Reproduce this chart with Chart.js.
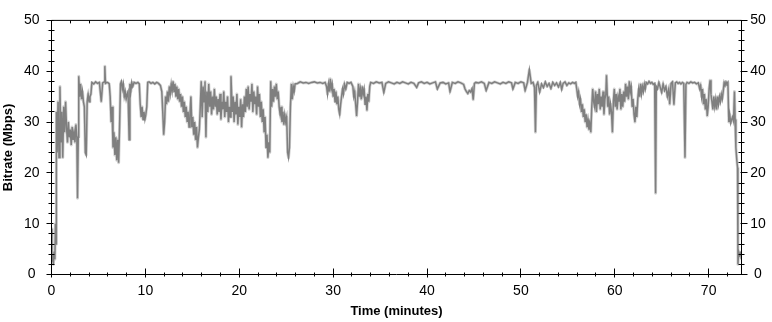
<!DOCTYPE html>
<html>
<head>
<meta charset="utf-8">
<script src="https://cdn.jsdelivr.net/npm/chart.js@4.4.1/dist/chart.umd.min.js"></script>
<style>
  html, body { margin: 0; padding: 0; background: #fff; }
  canvas { display: block; }
</style>
</head>
<body>
<canvas id="chart" width="772" height="322"></canvas>
<script>
// time axis (minutes) and bitrate readings (Mbps)
const timeMin = [
  0, 0.05, 0.12, 0.2, 0.28, 0.36, 0.42, 0.48, 0.52,
  0.6, 0.7, 0.8, 0.9, 1.0, 1.1, 1.2, 1.3, 1.4, 1.5, 1.6, 1.7, 1.8, 1.9, 2.0, 2.1, 2.2, 2.3, 2.4, 2.5, 2.6, 2.7, 2.77, 2.85,
  2.9, 3.0, 3.1, 3.2, 3.3, 3.4, 3.5, 3.6, 3.7, 3.8, 3.9, 4.0, 4.1, 4.2,
  4.3, 4.5, 4.7, 4.9, 5.1, 5.3, 5.45, 5.6, 5.68, 5.75, 5.9, 6.05, 6.15,
  6.25, 6.35, 6.45, 6.55, 6.65, 6.75, 6.85, 6.95, 7.05, 7.15, 7.25, 7.35,
  7.45, 7.55, 7.65, 7.75, 7.85, 7.95, 8.05, 8.15, 8.27, 8.35, 8.45, 8.55, 8.65, 8.8, 9.0, 9.2, 9.35,
  9.45, 9.55, 9.65, 9.75, 9.85, 9.95, 10.05, 10.15, 10.25,
  10.4, 10.6, 10.8, 11.0, 11.2, 11.4, 11.6, 11.75,
  11.85, 11.95, 12.05, 12.15, 12.25, 12.35, 12.45, 12.55, 12.65, 12.75, 12.85, 12.95,
  13.05, 13.15, 13.25, 13.35, 13.45, 13.55, 13.65, 13.75, 13.85, 13.95, 14.05, 14.15, 14.25, 14.35,
  14.45, 14.55, 14.65, 14.75, 14.85, 14.95, 15.05, 15.15, 15.25, 15.35, 15.45, 15.55, 15.65, 15.75,
  15.85, 15.95, 16.05, 16.15, 16.25, 16.35, 16.45, 16.55, 16.65, 16.75, 16.85, 16.95, 17.05, 17.15, 17.25, 17.35,
  17.45, 17.55, 17.65, 17.75, 17.85, 17.95, 18.05, 18.15, 18.25, 18.35, 18.45, 18.55, 18.65, 18.75, 18.85, 18.95,
  19.05, 19.12, 19.25, 19.35, 19.45, 19.55, 19.65, 19.75, 19.85, 19.95, 20.05, 20.15, 20.25, 20.35, 20.45, 20.55, 20.65, 20.75,
  20.85, 20.95, 21.05, 21.15, 21.25, 21.35, 21.45, 21.55, 21.65, 21.75, 21.85, 21.95, 22.05, 22.15, 22.25, 22.35, 22.45,
  22.55, 22.65, 22.75, 22.85, 22.95, 23.05, 23.15, 23.25, 23.35, 23.45, 23.55, 23.65, 23.75, 23.85, 23.95, 24.05, 24.15, 24.25,
  24.35, 24.45, 24.55, 24.65, 24.75, 24.85, 24.95, 25.05, 25.15, 25.25, 25.35, 25.45, 25.55, 25.65, 25.75, 25.85, 25.95,
  26.2, 26.5, 26.8, 27.1, 27.4, 27.7, 28.0, 28.3, 28.6, 28.9, 29.15,
  29.3, 29.4, 29.5, 29.6, 29.7, 29.8, 29.9, 30.0, 30.1, 30.2, 30.3, 30.4, 30.5, 30.6, 30.7, 30.8, 30.9, 31.0, 31.1, 31.2, 31.35, 31.5, 31.7, 31.9,
  32.1, 32.2, 32.3, 32.4, 32.5, 32.6, 32.7, 32.8, 32.9, 33.0, 33.1, 33.2, 33.3, 33.4, 33.5, 33.6, 33.7, 33.8, 33.9, 34.0,
  34.3, 34.6, 34.9, 35.2, 35.4, 35.6, 35.9, 36.2, 36.5, 36.8, 37.1, 37.4, 37.7, 38.0, 38.3, 38.6, 38.9, 39.1, 39.4, 39.7,
  40.0, 40.3, 40.6, 40.9, 41.1, 41.4, 41.7, 42.0, 42.3, 42.45, 42.7, 43.0, 43.3, 43.6,
  43.9, 44.05, 44.2, 44.35, 44.5, 44.65, 44.8, 44.92, 45.05, 45.2,
  45.5, 45.8, 46.1, 46.3, 46.6, 46.9, 47.2, 47.5, 47.8, 48.1, 48.4, 48.7, 49.0, 49.15, 49.4, 49.7, 50.0, 50.3, 50.45, 50.7,
  50.9, 51.1, 51.3, 51.45, 51.55, 51.65, 51.8, 52.0, 52.2, 52.4, 52.6, 52.8, 53.0, 53.2, 53.4, 53.6, 53.8, 54.0, 54.2, 54.35,
  54.5, 54.7, 54.9, 55.1, 55.3, 55.5, 55.7,
  55.85, 55.95, 56.05, 56.15, 56.25, 56.35, 56.45, 56.55, 56.65, 56.75, 56.85, 56.95, 57.05, 57.15, 57.25, 57.35, 57.45, 57.55, 57.65, 57.75,
  57.85, 57.95, 58.05, 58.15, 58.25, 58.35, 58.45, 58.55, 58.65, 58.75, 58.85, 58.95, 59.05, 59.12, 59.25, 59.35, 59.45, 59.55, 59.65, 59.75,
  59.85, 59.95, 60.05, 60.15, 60.25, 60.35, 60.45, 60.55, 60.65, 60.75, 60.85, 60.95, 61.05, 61.15, 61.25, 61.35, 61.45, 61.55, 61.65, 61.75,
  61.85, 61.95, 62.05, 62.15, 62.25, 62.35, 62.45, 62.55, 62.65, 62.75, 62.85, 62.95, 63.05, 63.15, 63.25, 63.35, 63.5, 63.65, 63.8, 63.95,
  64.1, 64.25,
  64.35, 64.42, 64.55, 64.7, 64.85, 65.0, 65.15, 65.3, 65.45, 65.6, 65.75, 65.85, 66.0, 66.15, 66.3, 66.45, 66.6, 66.75, 66.9, 67.05,
  67.2, 67.35, 67.48, 67.58, 67.7,
  67.9, 68.1, 68.3, 68.5, 68.7, 68.9, 69.05, 69.15, 69.25, 69.35, 69.45, 69.55, 69.65, 69.75, 69.85, 69.95, 70.05, 70.15, 70.25, 70.35,
  70.45, 70.55, 70.65, 70.75, 70.85, 70.95, 71.05, 71.15, 71.25, 71.35, 71.45, 71.55, 71.65, 71.75, 71.85, 71.95, 72.05, 72.15, 72.25, 72.35,
  72.45, 72.55, 72.65, 72.75, 72.82,
  72.9, 73.0, 73.08, 73.12, 73.2, 73.3, 73.4, 73.5
];

const bitrateMbps = [
  9, 2.5, 4, 2, 4.5, 3, 10, 6, 32,
  24, 34, 23, 37, 26, 32, 23, 33, 28, 34, 29, 26, 30, 27, 28.5, 25.5, 29, 26.5, 28, 26, 29.5, 27, 15, 27,
  39, 35, 37.5, 34.5, 36, 34, 33, 24, 23.5, 34, 35.5, 34, 35, 35.5,
  37.8, 37.5, 37.9, 37.6, 37.8, 34, 37.7, 37.9, 41, 37.6, 37.8, 37.7, 37.5,
  35, 30, 33, 25, 28, 23.5, 27, 22.5, 26.5, 22, 29, 37.5,
  38, 36.5, 37.5, 35, 36, 34.5, 35.5, 36, 26.5, 37.5, 36, 37.8, 37, 37.8, 37.6, 37.8, 37.5,
  33.5, 31, 33, 30.5, 32, 30.5, 31.5, 33, 37.8,
  37.9, 37.6, 37.8, 37.5, 37.8, 37.6, 37.2, 36,
  32, 27.5, 30, 35, 33.5, 36, 34, 37, 35.5, 37.5, 36, 38,
  36, 37.5, 35, 37, 34.5, 36.5, 34, 35.5, 33, 35, 32, 34, 31, 33,
  30, 32, 29, 31.5, 35, 29, 31, 27.5, 30, 26.5, 29, 25, 27, 28.5,
  33, 38, 31, 37, 34, 38, 27, 36, 32, 37.5, 33, 36, 31.5, 35, 32.5, 36.5,
  33, 35, 31.5, 34.5, 32, 35.5, 30.5, 34, 32.5, 36, 31, 34, 32, 35, 30, 33,
  31, 39, 32, 35, 30, 34, 31.5, 35.5, 29.5, 33, 31, 34.5, 29, 33.5, 31, 35, 32, 36.5,
  33, 37, 32.5, 35.5, 34, 37.5, 32, 36, 33.5, 35, 31.5, 37, 33, 35.5, 31, 34, 30,
  32.5, 28, 31, 25, 27.5, 23, 26, 24, 38, 33, 36.5, 34, 37, 35, 37.5, 34.5, 36, 33,
  31.5, 33, 30, 32, 29.5, 31.5, 30, 31, 24, 23, 25, 33, 37.5, 34.5, 37, 36, 37.5,
  37.6, 37.9, 37.7, 37.8, 37.6, 37.8, 37.9, 37.7, 37.8, 37.6, 37.8,
  37, 35.5, 37.5, 36, 38.5, 36.5, 37.5, 35, 36.5, 34, 36, 33.5, 35, 32.5, 31.5, 33.5, 35, 36.5, 35.5, 37.5, 36.5, 37.8, 37.6, 37.8,
  37, 35, 36, 33.5, 31.2, 34, 37.5, 35, 36.5, 34.5, 37, 35.5, 36.5, 33.5, 35, 32.3, 35.5, 34, 37, 37.8,
  37.6, 37.9, 37.7, 37.8, 35.8, 37.6, 37.9, 37.7, 37.5, 37.8, 37.6, 37.9, 37.7, 37.5, 37.8, 37.6, 36.8, 37.7, 37.9, 37.6,
  37.8, 37.5, 37.7, 37.9, 36.5, 37.7, 37.8, 37.5, 37.7, 36, 37.8, 37.6, 37.9, 37.7,
  37.4, 36.5, 36, 35.6, 36.2, 35.9, 36.6, 34.4, 37.6, 37.8,
  37.7, 37.9, 37.6, 36.2, 37.8, 37.6, 37.9, 37.7, 37.5, 37.8, 37.6, 37.9, 37.7, 36.5, 37.8, 37.6, 37.9, 37.7, 36.2, 37.8,
  40.3, 37.6, 37.8, 36.8, 28, 37.2, 37.8, 35.9, 37.5, 36.8, 37.9, 37, 37.6, 36.6, 37.8, 37.2, 37.7, 36.9, 37.8, 36.4,
  37.6, 37.9, 37.2, 37.7, 37.5, 37.8, 37.6,
  37.8, 36.5, 35, 36, 33.5, 34.5, 32, 33.5, 31, 32.5, 30, 31.5, 29, 30.5, 28.5, 29.5, 28, 33, 36.5, 34,
  33, 36, 32, 35.5, 33.5, 36.5, 32.5, 35, 33, 36, 31.5, 34.5, 35.5, 39.2, 33, 35, 31.5, 33.5, 32, 28,
  34, 36.5, 33, 35.5, 32.5, 35, 34, 36.5, 32.5, 35.5, 33, 36, 34, 37.5, 35, 37, 34.5, 38, 36, 37,
  33, 34.5, 31.5, 30, 33, 31, 34.5, 36.5, 35, 37.5, 35.5, 37, 36, 37.5, 36.5, 37.8, 37.5, 38, 37.6, 37.8,
  37.4, 37.6,
  16, 37, 36.5, 37.8, 36.8, 35.8, 37.5, 36.2, 37, 35, 36.5, 33.5, 37.6, 37.9, 33.4, 37.7, 37.9, 37.6, 37.8, 37.5,
  37.8, 37.6, 23, 37.4, 37.8,
  37.6, 37.9, 37.7, 37.8, 37.5, 37.7, 36.5, 37.2, 35, 36.5, 33.5, 35.5, 32.5, 34.5, 31.2, 33, 36.5, 38.2, 35.5, 34,
  32.5, 35, 33, 34.5, 32.5, 35, 33.5, 35, 34, 35.5, 34.5, 36, 37.8, 37.2, 37.9, 37.5, 37.8, 30, 31.5, 29.8,
  30.5, 31, 30.2, 36, 30.5,
  25, 22.5, 21, 2, 4.5, 3.8, 4.2, 3
];

const xTickValues = [0, 10, 20, 30, 40, 50, 60, 70];
const yTickValues = [0, 10, 20, 30, 40, 50];

const tickFont = { family: '"Liberation Sans", Arial, sans-serif', size: 14 };
const titleFont = { family: '"Liberation Sans", Arial, sans-serif', size: 13, weight: 'bold' };

// frame round the plot with major/minor tick marks on all four sides
const frameTicks = {
  id: 'frameTicks',
  afterDraw(chart) {
    const { ctx, chartArea: a } = chart;
    const xs = chart.scales.x, ys = chart.scales.y;
    const L = a.left, R = a.right, T = a.top, B = a.bottom;
    ctx.save();
    ctx.strokeStyle = '#000';
    ctx.lineWidth = 1;
    ctx.beginPath();
    ctx.moveTo(L, T); ctx.lineTo(R, T); ctx.lineTo(R, B); ctx.lineTo(L, B); ctx.closePath();
    for (let v = 0; v <= 73; v += 2) {
      const px = Math.floor(xs.getPixelForValue(v)) + 0.5;
      const major = v % 10 === 0;
      ctx.moveTo(px, B - (major ? 6 : 2)); ctx.lineTo(px, B + (major ? 3 : 2));
      ctx.moveTo(px, T); ctx.lineTo(px, T + (major ? 5 : 3));
    }
    for (let v = 0; v <= 50; v += 2) {
      const py = Math.floor(ys.getPixelForValue(v)) + 0.5;
      const major = v % 10 === 0;
      ctx.moveTo(L - (major ? 5 : 3), py); ctx.lineTo(L + (major ? 2 : 3), py);
      ctx.moveTo(R - (major ? 1 : 3), py); ctx.lineTo(R + (major ? 6 : 3), py);
    }
    ctx.stroke();
    ctx.restore();
  }
};

const toPoints = () => timeMin.map((t, i) => ({ x: t, y: bitrateMbps[i] }));

new Chart(document.getElementById('chart'), {
  type: 'line',
  data: {
    datasets: [
      // dataset 0 is painted last, so the dark trace sits over the pale halo
      { data: toPoints(), borderColor: '#7f7f7f', borderWidth: 1.5, pointRadius: 0, tension: 0 },
      { data: toPoints(), borderColor: '#d2d2d2', borderWidth: 3, borderJoinStyle: 'round', pointRadius: 0, tension: 0 }
    ]
  },
  options: {
    responsive: false,
    animation: false,
    devicePixelRatio: 1,
    layout: { padding: { top: 12.5, left: 0, right: 0, bottom: 0 } },
    plugins: { legend: { display: false }, tooltip: { enabled: false } },
    scales: {
      x: {
        type: 'linear', min: 0, max: 73.5,
        afterBuildTicks: axis => { axis.ticks = xTickValues.map(v => ({ value: v })); },
        afterFit: axis => { axis.height = 47.5; },
        grid: { display: false, drawTicks: false },
        border: { display: false },
        ticks: { font: tickFont, color: '#000', padding: 8, maxRotation: 0, autoSkip: false },
        title: { display: true, text: 'Time (minutes)', font: titleFont, color: '#000', padding: { top: 0, bottom: 2.4 } }
      },
      y: {
        position: 'left', min: 0, max: 50,
        afterBuildTicks: axis => { axis.ticks = yTickValues.map(v => ({ value: v })); },
        afterFit: axis => { axis.width = 51.5; },
        grid: { display: false, drawTicks: false },
        border: { display: false },
        ticks: { font: tickFont, color: '#000', padding: 12, crossAlign: 'center' },
        title: { display: true, text: 'Bitrate (Mbps)', font: titleFont, color: '#000', padding: { top: 0.7, bottom: 0 } }
      },
      y2: {
        position: 'right', min: 0, max: 50,
        afterBuildTicks: axis => { axis.ticks = yTickValues.map(v => ({ value: v })); },
        afterFit: axis => { axis.width = 30.5; },
        grid: { display: false, drawTicks: false },
        border: { display: false },
        ticks: { font: tickFont, color: '#000', padding: 8.7, crossAlign: 'center' }
      }
    }
  },
  plugins: [frameTicks]
});
</script>
</body>
</html>
